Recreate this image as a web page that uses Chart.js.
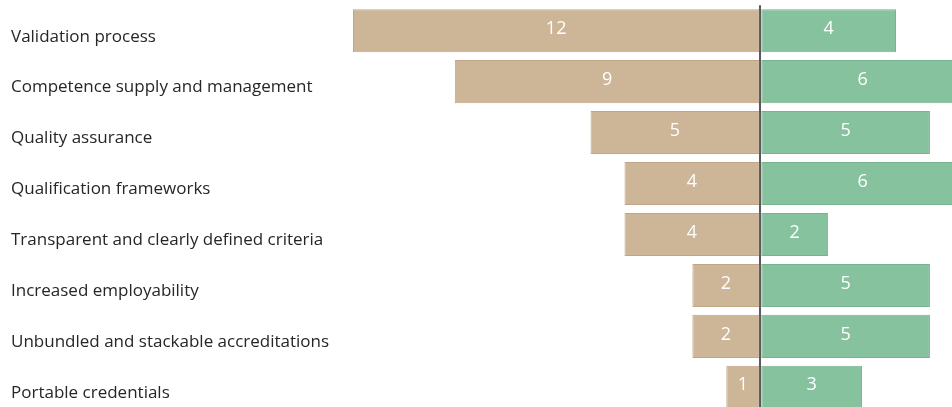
<!DOCTYPE html>
<html>
<head>
<meta charset="utf-8">
<script src="https://cdn.jsdelivr.net/npm/chart.js@4"></script>
<style>
  html, body { margin: 0; padding: 0; overflow: hidden; background: #fff; }
  #wrap { width: 952px; height: 434px; margin-top: -8px; }
</style>
</head>
<body>
<div id="wrap"><canvas id="chart"></canvas></div>
<script>
const categories = [
    'Validation process',
    'Competence supply and management',
    'Quality assurance',
    'Qualification frameworks',
    'Transparent and clearly defined criteria',
    'Increased employability',
    'Unbundled and stackable accreditations',
    'Portable credentials'
];
const leftValues = [12, 9, 5, 4, 4, 2, 2, 1];
const rightValues = [4, 6, 5, 6, 2, 5, 5, 3];

// bar value labels, drawn in the middle of each bar
const valueLabels = {
    id: 'valueLabels',
    afterDatasetsDraw(chart) {
        const ctx = chart.ctx;
        ctx.save();
        ctx.font = '18px "Open Sans", sans-serif';
        ctx.fillStyle = '#ffffff';
        ctx.textAlign = 'center';
        ctx.textBaseline = 'middle';
        chart.data.datasets.forEach((ds, i) => {
            chart.getDatasetMeta(i).data.forEach((bar, j) => {
                const v = Math.abs(ds.data[j]);
                ctx.fillText(String(v), (bar.x + bar.base) / 2, bar.y - 2);
            });
        });
        ctx.restore();
    }
};

const ctx = document.getElementById('chart').getContext('2d');
new Chart(ctx, {
    type: 'bar',
    data: {
        labels: categories,
        datasets: [
            {
                data: leftValues.map(v => -v),
                backgroundColor: '#cdb597',
                borderColor: '#c0a686',
                borderWidth: 1,
                borderSkipped: false
            },
            {
                data: rightValues,
                backgroundColor: '#87c29f',
                borderColor: '#77b38f',
                borderWidth: 1,
                borderSkipped: false
            }
        ]
    },
    options: {
        indexAxis: 'y',
        responsive: true,
        maintainAspectRatio: false,
        animation: false,
        layout: { padding: { left: 11 } },
        datasets: {
            bar: { categoryPercentage: 1, barPercentage: 0.845 }
        },
        plugins: {
            legend: { display: false },
            tooltip: { enabled: false }
        },
        scales: {
            x: {
                stacked: true,
                min: -12,
                max: 5.65,
                z: 1,
                ticks: { display: false, stepSize: 1 },
                border: { display: false },
                grid: {
                    drawTicks: false,
                    color: c => c.tick && c.tick.value === 0 ? '#5a5a5a' : 'rgba(0,0,0,0)',
                    lineWidth: 2
                }
            },
            y: {
                stacked: true,
                border: { display: false },
                grid: { display: false },
                afterFit: scale => { scale.width = 342; },
                ticks: {
                    autoSkip: false,
                    crossAlign: 'far',
                    labelOffset: 6,
                    color: '#262626',
                    font: { family: '"Open Sans", sans-serif', size: 17 }
                }
            }
        }
    },
    plugins: [valueLabels]
});
</script>
</body>
</html>
